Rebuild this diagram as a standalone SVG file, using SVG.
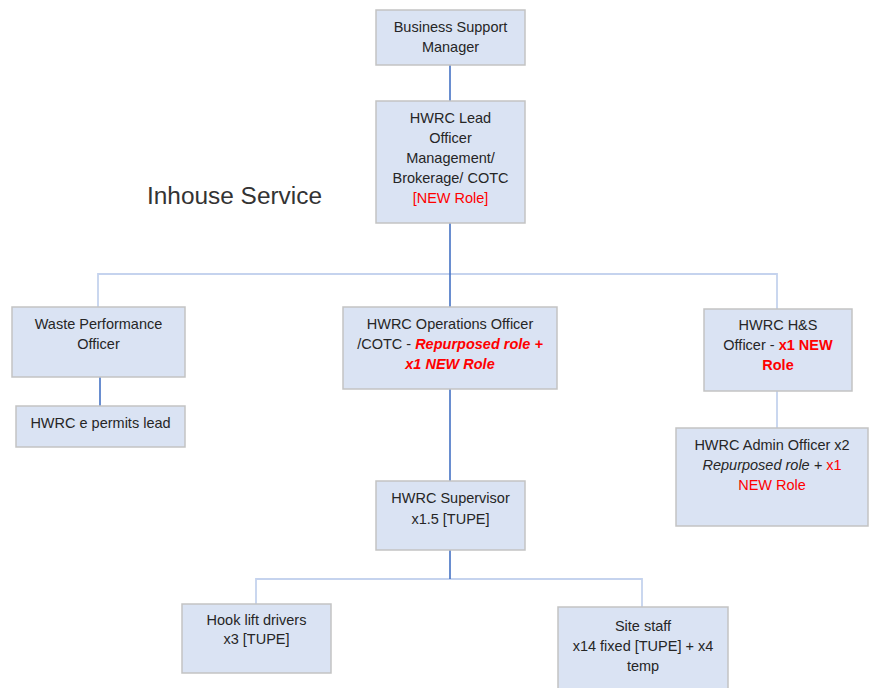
<svg xmlns="http://www.w3.org/2000/svg" width="870" height="688" viewBox="0 0 870 688">
<style>
.box{fill:#DAE3F3;stroke:#C3C3C3;stroke-width:1.5}
.t{font-family:"Liberation Sans",Arial,sans-serif;font-size:14.5px;fill:#262626;text-anchor:middle}
.r{fill:#FF0000}
.b{font-weight:bold}
.i{font-style:italic}
.dk{stroke:#4472C4;stroke-width:1.6;fill:none}
.lt{stroke:#C5D3EE;stroke-width:1.8;fill:none}
.title{font-family:"Liberation Sans",Arial,sans-serif;font-size:23.5px;fill:#333333}
</style>
<rect width="870" height="688" fill="#FFFFFF"/>
<g id="connectors">
<line class="dk" x1="450" y1="65" x2="450" y2="101"/>
<polyline class="lt" points="98,307 98,274 777,274 777,309"/>
<line class="dk" x1="450" y1="223" x2="450" y2="307"/>
<line class="dk" x1="100" y1="377" x2="100" y2="406"/>
<line class="lt" x1="777" y1="391" x2="777" y2="428"/>
<line class="dk" x1="450" y1="389" x2="450" y2="481"/>
<polyline class="lt" points="256,605 256,579 642,579 642,607"/>
<line class="dk" x1="450" y1="550" x2="450" y2="579"/>
</g>
<text class="title" x="147" y="204" textLength="175" lengthAdjust="spacingAndGlyphs">Inhouse Service</text>
<g id="n-bsm">
<rect class="box" x="376" y="10" width="149" height="55"/>
<text class="t" x="450.5" y="32">Business Support</text>
<text class="t" x="450.5" y="52">Manager</text>
</g>
<g id="n-lead">
<rect class="box" x="376" y="101" width="149" height="122"/>
<text class="t" x="450.5" y="123">HWRC Lead</text>
<text class="t" x="450.5" y="143">Officer</text>
<text class="t" x="450.5" y="163">Management/</text>
<text class="t" x="450.5" y="183">Brokerage/ COTC</text>
<text class="t r" x="450.5" y="203">[NEW Role]</text>
</g>
<g id="n-waste">
<rect class="box" x="12" y="307" width="173" height="70"/>
<text class="t" x="98.5" y="329">Waste Performance</text>
<text class="t" x="98.5" y="349">Officer</text>
</g>
<g id="n-permits">
<rect class="box" x="16" y="406" width="169" height="41"/>
<text class="t" x="100.5" y="428">HWRC e permits lead</text>
</g>
<g id="n-ops">
<rect class="box" x="343" y="307" width="214" height="82"/>
<text class="t" x="450" y="329">HWRC Operations Officer</text>
<text class="t" x="450" y="349">/COTC - <tspan class="r b i">Repurposed role +</tspan></text>
<text class="t r b i" x="450" y="369">x1 NEW Role</text>
</g>
<g id="n-hs">
<rect class="box" x="704" y="309" width="148" height="82"/>
<text class="t" x="778" y="330">HWRC H&amp;S</text>
<text class="t" x="778" y="350">Officer - <tspan class="r b">x1 NEW</tspan></text>
<text class="t r b" x="778" y="370">Role</text>
</g>
<g id="n-admin">
<rect class="box" x="676" y="428" width="192" height="98"/>
<text class="t" x="772" y="450">HWRC Admin Officer x2</text>
<text class="t" x="772" y="470"><tspan class="i">Repurposed role + </tspan><tspan class="r">x1</tspan></text>
<text class="t r" x="772" y="490">NEW Role</text>
</g>
<g id="n-sup">
<rect class="box" x="376" y="481" width="149" height="69"/>
<text class="t" x="450.5" y="503">HWRC Supervisor</text>
<text class="t" x="450.5" y="524">x1.5 [TUPE]</text>
</g>
<g id="n-hook">
<rect class="box" x="182" y="604" width="149" height="69"/>
<text class="t" x="256.5" y="625">Hook lift drivers</text>
<text class="t" x="256.5" y="644">x3 [TUPE]</text>
</g>
<g id="n-site">
<rect class="box" x="558" y="607" width="170" height="90"/>
<text class="t" x="643" y="631">Site staff</text>
<text class="t" x="643" y="651">x14 fixed [TUPE] + x4</text>
<text class="t" x="643" y="671">temp</text>
</g>
</svg>
